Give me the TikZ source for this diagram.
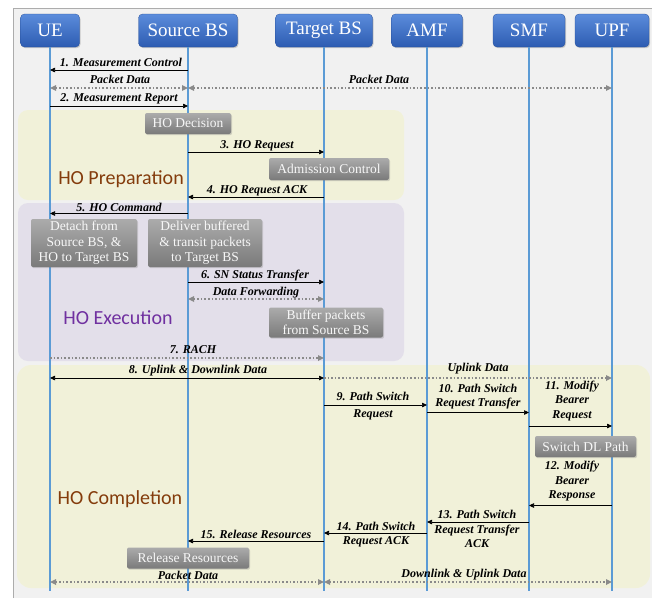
\documentclass[tikz,border=0pt]{standalone}
\usepackage{fontspec}
\setmainfont{Liberation Serif}
\newfontfamily\tnr{Liberation Serif}
\newfontfamily\regionfont{Carlito}
\usetikzlibrary{arrows.meta,shadows}
\definecolor{lifeblue}{HTML}{5B9BD5}
\definecolor{hdrtop}{HTML}{5B8CDB}
\definecolor{hdrbot}{HTML}{2D5CB2}
\definecolor{boxtop}{HTML}{ABABAB}
\definecolor{boxbot}{HTML}{7A7A7A}
\definecolor{prepfill}{HTML}{F1F1D9}
\definecolor{execfill}{HTML}{E3DFEA}
\definecolor{framebg}{HTML}{F1F1F1}
\definecolor{dotgray}{HTML}{8A8A8A}
\definecolor{brownlbl}{HTML}{843C0C}
\definecolor{purplelbl}{HTML}{7030A0}
\tikzset{
  actor/.style={rounded corners=4pt, top color=hdrtop, bottom color=hdrbot,
    draw=hdrbot!85!black, line width=0.3pt, text=white,
    font=\tnr\fontsize{19}{21}\selectfont, minimum height=33pt, inner sep=0pt,
    drop shadow={opacity=0.35, shadow xshift=1pt, shadow yshift=-1.2pt}},
  graybox/.style={rounded corners=2pt, top color=boxtop, bottom color=boxbot,
    text=white!94!gray, font=\tnr\fontsize{13.5}{15.5}\selectfont, inner sep=0pt,
    align=center, drop shadow={opacity=0.3, shadow xshift=1pt, shadow yshift=-1.2pt}},
  lifeline/.style={lifeblue, line width=1.5pt},
  msg/.style={black, line width=0.7pt, -{Triangle[length=5pt,width=4.5pt]}},
  dmsg/.style={black, line width=0.7pt, {Triangle[length=5pt,width=4.5pt]}-{Triangle[length=5pt,width=4.5pt]}},
  dots/.style={dotgray, line width=1.8pt, dash pattern=on 1.6pt off 2pt,
    -{Triangle[length=6pt,width=5.5pt]}},
  ddots/.style={dotgray, line width=1.8pt, dash pattern=on 1.6pt off 2pt,
    {Triangle[length=6pt,width=5.5pt]}-{Triangle[length=6pt,width=5.5pt]}},
  lbl/.style={font=\tnr\fontsize{12}{14.5}\selectfont\bfseries\itshape, inner sep=0pt, align=center},
  region/.style={font=\regionfont\fontsize{20}{22}\selectfont, inner sep=0pt},
}
\begin{document}
\begin{tikzpicture}[x=1pt,y=-1pt]
\useasboundingbox (0,0) rectangle (652,598);
\fill[white] (0,0) rectangle (652,598);
\fill[framebg] (13,8) rectangle (652,598);
\draw[gray!65, line width=1pt] (13,598) -- (13,8) -- (652,8);
% regions
\fill[prepfill, rounded corners=10pt] (18,110) rectangle (404,200);
\fill[execfill, rounded corners=10pt] (18,203) rectangle (404,361);
\fill[prepfill, rounded corners=14pt] (17,365) rectangle (650,588);
\node[region, text=brownlbl] (rprep) at (121,179) {HO Preparation};
\node[region, text=purplelbl] (rexec) at (118,318) {HO Execution};
\node[region, text=brownlbl] (rcomp) at (120,499) {HO Completion};
% actors
\node[actor, minimum width=59pt] (ue) at (50,30.5) {UE};
\node[actor, minimum width=99pt] (src) at (188,30.5) {Source BS};
\node[actor, minimum width=97pt] (tgt) at (324,30.5) {Target BS};
\node[actor, minimum width=71pt] (amf) at (427,30.5) {AMF};
\node[actor, minimum width=72pt] (smf) at (529,30.5) {SMF};
\node[actor, minimum width=74pt] (upf) at (612,30.5) {UPF};
\coordinate (ueE) at (50,591);
\coordinate (srcE) at (188,591);
\coordinate (tgtE) at (324,591);
\coordinate (amfE) at (427,591);
\coordinate (smfE) at (529,591);
\coordinate (upfE) at (612,591);
\foreach \a in {ue,src,tgt,amf,smf,upf} {\draw[lifeline] (\a.south) -- (\a E);}
% gray boxes
\node[graybox, minimum width=86pt, minimum height=21pt] (hodec) at (188,123.5) {HO Decision};
\node[graybox, minimum width=120pt, minimum height=22pt] (adm) at (329,169) {Admission Control};
\node[graybox, minimum width=106pt, minimum height=48pt] (detach) at (84,243) {Detach from\\Source BS, \&\\HO to Target BS};
\node[graybox, minimum width=114pt, minimum height=48pt] (deliver) at (205,243) {Deliver buffered\\\& transit packets\\to Target BS};
\node[graybox, minimum width=114pt, minimum height=30pt] (buffer) at (326,322.5) {Buffer packets\\from Source BS};
\node[graybox, minimum width=101pt, minimum height=21pt] (swdl) at (585.5,446.5) {Switch DL Path};
\node[graybox, minimum width=122pt, minimum height=21pt] (relbox) at (188,558) {Release Resources};
% messages
\draw[msg] (src |- 0,70) -- (ue |- 0,70);
\node[lbl] (l1) at (121,62) {1. Measurement Control};
\draw[ddots] (ue |- 0,88) -- (src |- 0,88);
\node[lbl] (l1a) at (120,79) {Packet Data};
\draw[ddots] (src |- 0,88) -- (upf |- 0,88);
\node[lbl] (l1b) at (379,79) {Packet Data};
\draw[msg] (ue |- 0,106) -- (src |- 0,106);
\node[lbl] (l2) at (119,99) {2. Measurement Report};
\draw[msg] (src |- 0,152) -- (tgt |- 0,152);
\node[lbl] (l3) at (257,145.5) {3. HO Request};
\draw[msg] (tgt |- 0,197) -- (src |- 0,197);
\node[lbl] (l4) at (257,190.5) {4. HO Request ACK};
\draw[msg] (src |- 0,213.5) -- (ue |- 0,213.5);
\node[lbl] (l5) at (119,207) {5. HO Command};
\draw[msg] (src |- 0,282) -- (tgt |- 0,282);
\node[lbl] (l6) at (255,276) {6. SN Status Transfer};
\draw[ddots] (src |- 0,299) -- (tgt |- 0,299);
\node[lbl] (l6a) at (256,292.5) {Data Forwarding};
\draw[dots] (ue |- 0,358) -- (tgt |- 0,358);
\node[lbl] (l7) at (193,350) {7. RACH};
\draw[dmsg] (ue |- 0,378) -- (tgt |- 0,378);
\node[lbl] (l8) at (198,370.5) {8. Uplink \& Downlink Data};
\draw[dots] (tgt |- 0,378) -- (upf |- 0,378);
\node[lbl] (l8a) at (478,369) {Uplink Data};
\draw[msg] (tgt |- 0,405) -- (amf |- 0,405);
\node[lbl] (l9) at (373,406) {9. Path Switch\\[2pt]Request};
\draw[msg] (amf |- 0,412.5) -- (smf |- 0,412.5);
\node[lbl] (l10) at (478,396.5) {10. Path Switch\\Request Transfer};
\draw[msg] (smf |- 0,426) -- (upf |- 0,426);
\node[lbl] (l11) at (572,401) {11. Modify\\Bearer\\Request};
\draw[msg] (upf |- 0,505.5) -- (smf |- 0,505.5);
\node[lbl] (l12) at (572,481.5) {12. Modify\\Bearer\\Response};
\draw[msg] (smf |- 0,522) -- (amf |- 0,522);
\node[lbl] (l13) at (477,529) {13. Path Switch\\Request Transfer\\ACK};
\draw[msg] (amf |- 0,533) -- (tgt |- 0,533);
\node[lbl] (l14) at (376,534.5) {14. Path Switch\\Request ACK};
\draw[msg] (tgt |- 0,541) -- (src |- 0,541);
\node[lbl] (l15) at (256,534.5) {15. Release Resources};
\draw[ddots] (ue |- 0,582) -- (tgt |- 0,582);
\node[lbl] (l16) at (188,575) {Packet Data};
\draw[ddots] (tgt |- 0,582) -- (upf |- 0,582);
\node[lbl] (l17) at (464,575) {Downlink \& Uplink Data};
\end{tikzpicture}
\end{document}
